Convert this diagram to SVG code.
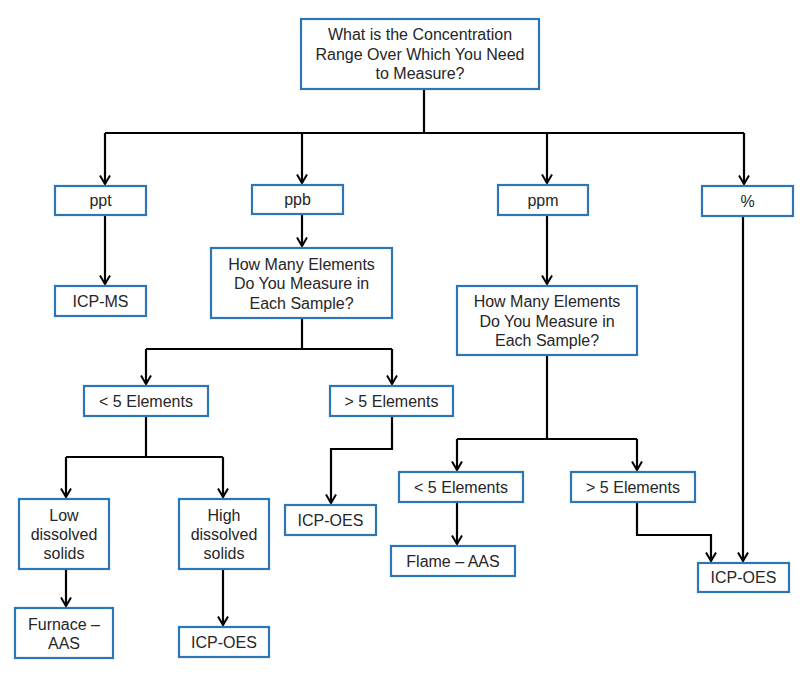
<svg xmlns="http://www.w3.org/2000/svg" width="800" height="676" viewBox="0 0 800 676">
<defs>
<marker id="arr" markerUnits="userSpaceOnUse" markerWidth="14" markerHeight="14" viewBox="-11 -7 14 14" refX="0" refY="0" orient="auto">
<path d="M-8.5,-5 L0,0 L-8.5,5" fill="none" stroke="#000" stroke-width="2"/>
</marker>
<style>
.box{fill:#fff;stroke:#2E75B6;stroke-width:2.2}
.t{font-family:"Liberation Sans",Arial,sans-serif;font-size:16px;fill:#262626;text-anchor:middle}
.c{fill:none;stroke:#000;stroke-width:2.2}
.a{marker-end:url(#arr)}
</style>
</defs>
<rect width="800" height="676" fill="#fff"/>
<g id="connectors">
<path class="c" d="M424,89 V133"/>
<path class="c" d="M105,133 H744"/>
<path class="c a" d="M105,133 V184"/>
<path class="c a" d="M302,133 V183"/>
<path class="c a" d="M547,133 V183"/>
<path class="c a" d="M744,133 V184"/>
<path class="c a" d="M105,215 V284"/>
<path class="c a" d="M302,214 V246"/>
<path class="c a" d="M547,215 V284"/>
<path class="c" d="M302,318 V349"/>
<path class="c" d="M146,349 H392"/>
<path class="c a" d="M146,349 V384"/>
<path class="c a" d="M392,349 V384"/>
<path class="c" d="M146,416 V457"/>
<path class="c" d="M66,457 H223"/>
<path class="c a" d="M66,457 V497"/>
<path class="c a" d="M223,457 V497"/>
<path class="c a" d="M66,569 V606"/>
<path class="c a" d="M223,569 V625"/>
<path class="c a" d="M392,416 V449 H331 V503"/>
<path class="c" d="M547,355 V439"/>
<path class="c" d="M457,439 H637"/>
<path class="c a" d="M457,439 V470"/>
<path class="c a" d="M637,439 V470"/>
<path class="c a" d="M457,502 V544"/>
<path class="c a" d="M637,502 V535 H711 V561"/>
<path class="c a" d="M743,216 V561"/>
</g>
<g id="n_top">
<rect class="box" x="301" y="19" width="238" height="70"/>
<text class="t" x="420" y="40">What is the Concentration</text>
<text class="t" x="420" y="59.5">Range Over Which You Need</text>
<text class="t" x="420" y="79">to Measure?</text>
</g>
<g id="n_ppt">
<rect class="box" x="55" y="186" width="91" height="29"/>
<text class="t" x="100.5" y="206">ppt</text>
</g>
<g id="n_ppb">
<rect class="box" x="252" y="185" width="91" height="29"/>
<text class="t" x="297.5" y="205">ppb</text>
</g>
<g id="n_ppm">
<rect class="box" x="498" y="185" width="90" height="30"/>
<text class="t" x="543" y="205.5">ppm</text>
</g>
<g id="n_pct">
<rect class="box" x="702" y="186" width="91" height="30"/>
<text class="t" x="747.5" y="206.5">%</text>
</g>
<g id="n_icpms">
<rect class="box" x="55" y="286" width="91" height="30"/>
<text class="t" x="100.5" y="306.5">ICP-MS</text>
</g>
<g id="n_q1">
<rect class="box" x="211" y="248" width="181" height="70"/>
<text class="t" x="301.5" y="269.5">How Many  Elements</text>
<text class="t" x="301.5" y="289">Do You Measure in</text>
<text class="t" x="301.5" y="308.5">Each Sample?</text>
</g>
<g id="n_q2">
<rect class="box" x="457" y="286" width="180" height="69"/>
<text class="t" x="547" y="307">How Many  Elements</text>
<text class="t" x="547" y="326.5">Do You Measure in</text>
<text class="t" x="547" y="346">Each Sample?</text>
</g>
<g id="n_lt5a">
<rect class="box" x="84" y="386" width="124" height="30"/>
<text class="t" x="146" y="406.5">&lt; 5 Elements</text>
</g>
<g id="n_gt5a">
<rect class="box" x="330" y="386" width="123" height="30"/>
<text class="t" x="391.5" y="406.5">&gt; 5 Elements</text>
</g>
<g id="n_low">
<rect class="box" x="19" y="499" width="90" height="70"/>
<text class="t" x="64" y="520.5">Low</text>
<text class="t" x="64" y="539.5">dissolved</text>
<text class="t" x="64" y="558.5">solids</text>
</g>
<g id="n_high">
<rect class="box" x="179" y="499" width="90" height="70"/>
<text class="t" x="224" y="520.5">High</text>
<text class="t" x="224" y="539.5">dissolved</text>
<text class="t" x="224" y="558.5">solids</text>
</g>
<g id="n_furnace">
<rect class="box" x="15" y="608" width="98" height="50"/>
<text class="t" x="64" y="630">Furnace –</text>
<text class="t" x="64" y="649">AAS</text>
</g>
<g id="n_icpoes1">
<rect class="box" x="179" y="627" width="90" height="30"/>
<text class="t" x="224" y="647.5">ICP-OES</text>
</g>
<g id="n_icpoes2">
<rect class="box" x="285" y="505" width="91" height="30"/>
<text class="t" x="330.5" y="525.5">ICP-OES</text>
</g>
<g id="n_lt5b">
<rect class="box" x="399" y="472" width="124" height="30"/>
<text class="t" x="461" y="492.5">&lt; 5 Elements</text>
</g>
<g id="n_gt5b">
<rect class="box" x="571" y="472" width="124" height="30"/>
<text class="t" x="633" y="492.5">&gt; 5 Elements</text>
</g>
<g id="n_flame">
<rect class="box" x="391" y="546" width="124" height="30"/>
<text class="t" x="453" y="566.5">Flame – AAS</text>
</g>
<g id="n_icpoes3">
<rect class="box" x="698" y="563" width="91" height="29"/>
<text class="t" x="743.5" y="583">ICP-OES</text>
</g>
</svg>
